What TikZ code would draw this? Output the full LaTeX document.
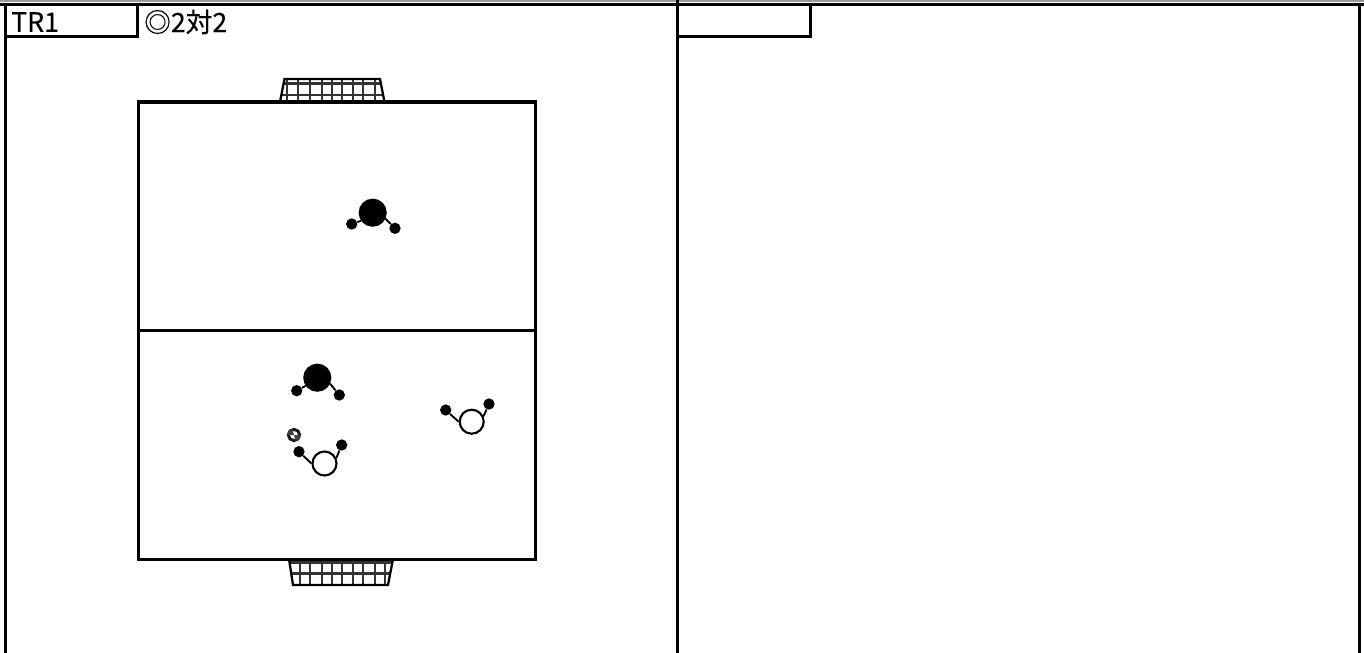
\documentclass[tikz,border=0pt]{standalone}
\usepackage{fontspec}
\setmainfont[FakeBold=0.3]{Noto Sans CJK JP}
\usetikzlibrary{positioning}

\begin{document}
\begin{tikzpicture}[
    x=0.75pt, y=-0.75pt,
    frame/.style={line width=2.5pt, black},
    pitch/.style={
      rectangle,
      draw=black,
      line width=2.5pt,
      minimum width=298pt,
      minimum height=343pt,
      inner sep=0pt
    },
    label/.style={anchor=west, inner sep=0pt, font=\fontsize{20}{20}\selectfont},
    body/.style={circle, draw=black, line width=1.6pt, inner sep=0pt},
    dark/.style={body, fill=black, minimum size=19.5pt},
    light/.style={body, fill=white, minimum size=18pt},
    hand/.style={circle, fill=black, inner sep=0pt, minimum size=8.5pt},
    arm/.style={line width=1.4pt, black},
    ball/.style={circle, draw=black!90, line width=2.2pt, fill=white, inner sep=0pt, minimum size=8.5pt},
    post/.style={line width=1.7pt, black},
    mesh/.style={line width=1.9pt, black!80}
  ]
    \useasboundingbox (0,0) rectangle (1364,653);

    % page frame
    \draw[line width=1.6pt, black!40] (0,1) -- (1364,1);
    \draw[frame] (0,4.5) -- (1364,4.5);
    \draw[frame] (5.3,4.5) -- (5.3,653);
    \draw[frame] (677.5,0) -- (677.5,653);
    \draw[frame] (1359.5,4.5) -- (1359.5,653);
    \draw[frame] (5.3,36.3) -- (137.3,36.3) -- (137.3,4.5);
    \draw[frame] (677.5,36.3) -- (810.5,36.3) -- (810.5,4.5);

    \node[label] (title) at (11,22) {TR1};
    \node[label] (drill) at (144,22) {◎2対2};

    % goals
    \foreach \x in {287,298,310,322,332,342,353,363,375}
      \draw[mesh] (\x,80) -- (\x,101);
    \draw[mesh] (283,83.5) -- (381,83.5);
    \draw[mesh] (282,95) -- (382,95);
    \draw[post] (280,102) -- (284.5,79) -- (380,79) -- (384.5,102);

    \foreach \x in {300,310,322,332,342,353,363,375,385}
      \draw[mesh] (\x,560) -- (\x,584);
    \draw[mesh] (290,562.5) -- (392,562.5);
    \draw[mesh] (291,573.5) -- (391,573.5);
    \draw[post] (289,559) -- (293,585) -- (388,585) -- (393,559);

    % pitch
    \node[pitch] (pitch) at (337,330.5) {};
    \draw[frame] (pitch.west) -- (pitch.east);

    % players
    \node[dark] (upper) at (372.7,212.7) {};
    \node[hand] (upperL) at (351.7,224) {};
    \node[hand] (upperR) at (395,228.3) {};
    \draw[arm] (upper.215) -- (upperL);
    \draw[arm] (upper.-25) -- (upperR);

    \node[dark] (lower) at (317.3,377.7) {};
    \node[hand] (lowerL) at (296.7,390.7) {};
    \node[hand] (lowerR) at (339.3,395) {};
    \draw[arm] (lower.215) -- (lowerL);
    \draw[arm] (lower.-25) -- (lowerR);

    \node[light] (keeper) at (324.5,463.5) {};
    \node[hand] (keeperL) at (299,451.7) {};
    \node[hand] (keeperR) at (341.7,445) {};
    \draw[arm] (keeper.180) -- (keeperL);
    \draw[arm] (keeper.25) -- (keeperR);

    \node[light] (wide) at (471.7,421.7) {};
    \node[hand] (wideL) at (445.7,410) {};
    \node[hand] (wideR) at (489,404) {};
    \draw[arm] (wide.180) -- (wideL);
    \draw[arm] (wide.25) -- (wideR);

    \node[ball] (ball) at (294,435) {};
    \fill[black!75] (ball.center) -- (ball.west) arc[start angle=180, end angle=90, radius=4.25pt] -- cycle;
    \fill[black!75] (ball.center) -- (ball.east) arc[start angle=0, end angle=-90, radius=4.25pt] -- cycle;
  \end{tikzpicture}
\end{document}
